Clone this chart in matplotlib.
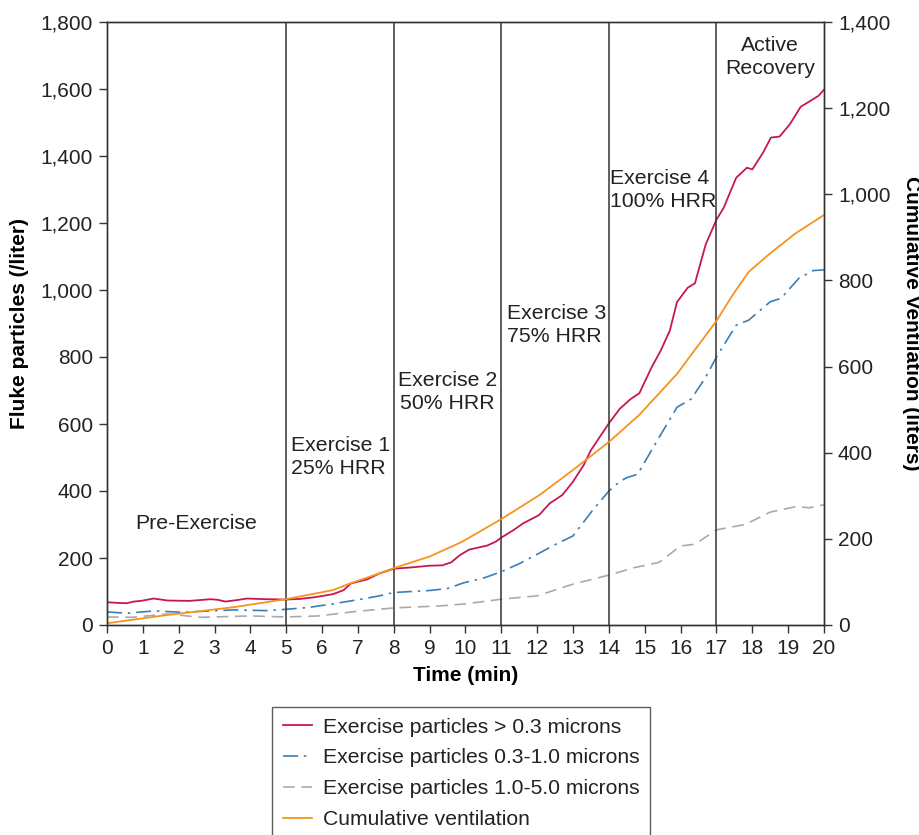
import matplotlib
matplotlib.use("Agg")
import matplotlib.pyplot as plt
from matplotlib.ticker import FuncFormatter

plt.rcParams['font.family'] = ['Liberation Sans', 'DejaVu Sans']

# ---- data ----
t_red = [0, 0.3, 0.55, 0.75, 0.95, 1.3, 1.7, 2.3, 2.9, 3.1, 3.3, 3.6, 3.9, 4.45, 5.0, 5.4, 5.8,
         6.3, 6.6, 6.8, 7.25, 7.6, 8.0, 8.5, 9.0, 9.35, 9.6, 9.85, 10.1, 10.6, 10.85, 11.0,
         11.35, 11.6, 12.05, 12.35, 12.7, 13.0, 13.3, 13.5, 13.75, 14.0, 14.3, 14.6, 14.85,
         15.2, 15.45, 15.7, 15.9, 16.2, 16.4, 16.7, 17.0, 17.2, 17.55, 17.85, 18.0, 18.3,
         18.52, 18.76, 19.05, 19.35, 19.55, 19.7, 19.85, 20.0]
v_red = [68, 66, 65, 70, 72, 79, 73, 72, 77, 75, 70, 74, 79, 77, 76, 78, 83,
         92, 104, 124, 136, 154, 168, 172, 177, 178, 187, 209, 225, 237, 249, 261,
         284, 303, 328, 363, 388, 428, 478, 522, 562, 602, 645, 674, 692,
         771, 820, 879, 964, 1007, 1020, 1136, 1210, 1245, 1335, 1365, 1360, 1410,
         1455, 1458, 1495, 1547, 1560, 1570, 1580, 1598]

t_blue = [0, 0.55, 1.3, 2.1, 3.5, 4.45, 5.0, 5.6, 6.3, 7.25, 7.6, 8.0, 8.5, 9.0, 9.5, 9.95,
          10.5, 11.0, 11.5, 12.05, 12.5, 13.0, 13.55, 14.0, 14.3, 14.5, 14.8, 15.4, 15.9,
          16.3, 16.7, 17.0, 17.55, 17.9, 18.5, 18.8, 19.3, 19.7, 20.0]
v_blue = [39, 35, 42, 38, 45, 43, 47, 52, 63, 80, 87, 97, 100, 103, 109, 126,
          140, 159, 183, 214, 240, 266, 343, 400, 428, 440, 450, 560, 650,
          675, 740, 800, 895, 910, 965, 975, 1035, 1058, 1060]

t_gray = [0, 0.7, 1.7, 2.6, 4.0, 5.0, 5.9, 6.9, 8.0, 9.3, 10.0, 11.0, 12.0, 13.0, 14.0,
          14.7, 15.4, 16.0, 16.4, 17.0, 17.8, 18.5, 19.2, 19.6, 20.0]
v_gray = [24, 23, 33, 23, 27, 24, 27, 40, 51, 57, 63, 77, 87, 122, 149,
          171, 187, 236, 241, 284, 300, 337, 353, 350, 359]

t_vent = [0, 1.66, 3.5, 5.0, 6.3, 6.8, 7.6, 8.0, 9.0, 9.9, 11.0, 12.07, 13.0, 14.0, 14.85,
          15.9, 17.0, 17.45, 17.9, 18.5, 19.2, 20.0]
v_vent = [4, 23, 41, 60, 81, 97, 120, 132, 159, 193, 246, 302, 360, 425, 488,
          583, 706, 766, 820, 863, 909, 952]

phase_bounds = [5, 8, 11, 14, 17]
x_ticks = list(range(0, 21))
left_ticks = list(range(0, 1801, 200))
right_ticks = list(range(0, 1401, 200))

labels = ["Exercise particles > 0.3 microns", "Exercise particles 0.3-1.0 microns",
          "Exercise particles 1.0-5.0 microns", "Cumulative ventilation"]

# ---- figure ----
fig = plt.figure(figsize=(9.2, 8.35), dpi=100)
ax = fig.add_axes([107/920, 1 - 625/835, (824-107)/920, (625-22)/835])
ax2 = ax.twinx()

dark = '#333333'
fs = 15

l1, = ax.plot(t_red, v_red, color='#c8174f', lw=1.3)
l2, = ax.plot(t_blue, v_blue, color='#3a7fb5', lw=1.2, linestyle=(0, (9, 3.5, 1.5, 3.5)))
l3, = ax.plot(t_gray, v_gray, color='#aaaaaa', lw=1.2, linestyle=(0, (7, 4)))
l4, = ax2.plot(t_vent, v_vent, color='#f7931e', lw=1.3)

for xb in phase_bounds:
    ax.axvline(xb, color=dark, lw=1.1)

ax.set_xlim(0, 20)
ax.set_ylim(0, 1800)
ax2.set_ylim(0, 1400)
ax.set_xticks(x_ticks)
ax.set_yticks(left_ticks)
ax2.set_yticks(right_ticks)
fmt = FuncFormatter(lambda v, p: f"{int(v):,}")
ax.yaxis.set_major_formatter(fmt)
ax2.yaxis.set_major_formatter(fmt)

for a in (ax, ax2):
    a.tick_params(direction='out', length=6, width=1, color=dark, labelsize=fs,
                  labelcolor='#222222', pad=4)
    for s in a.spines.values():
        s.set_color(dark)
        s.set_linewidth(1)

ax.set_xlabel("Time (min)", fontsize=15, fontweight='bold', labelpad=6)
ax.set_ylabel("Fluke particles (/liter)", fontsize=15, fontweight='bold', labelpad=8)
ax2.set_ylabel("Cumulative Ventilation (liters)", fontsize=15, fontweight='bold',
               rotation=270, labelpad=22)

tk = dict(fontsize=15.3, color='#222222', linespacing=1.3)
ax.text(2.48, 304, "Pre-Exercise", ha='center', va='center', **tk)
ax.text(5.13, 501, "Exercise 1\n25% HRR", ha='left', va='center', **tk)
ax.text(9.5, 696, "Exercise 2\n50% HRR", ha='center', va='center', multialignment='center', **tk)
ax.text(11.16, 896, "Exercise 3\n75% HRR", ha='left', va='center', **tk)
ax.text(14.03, 1299, "Exercise 4\n100% HRR", ha='left', va='center', **tk)
ax.text(18.5, 1696, "Active\nRecovery", ha='center', va='center', multialignment='center', **tk)

leg = fig.legend([l1, l2, l3, l4], labels, loc='upper left',
                 bbox_to_anchor=(272/920, 1 - 707/835), fontsize=15.2, frameon=True,
                 fancybox=False, edgecolor=dark, handlelength=1.4, handletextpad=0.5,
                 labelspacing=0.56, borderpad=0.5, borderaxespad=0)
leg.get_frame().set_linewidth(1)
for txt in leg.get_texts():
    txt.set_color('#222222')

fig.savefig("out.png", dpi=100)
